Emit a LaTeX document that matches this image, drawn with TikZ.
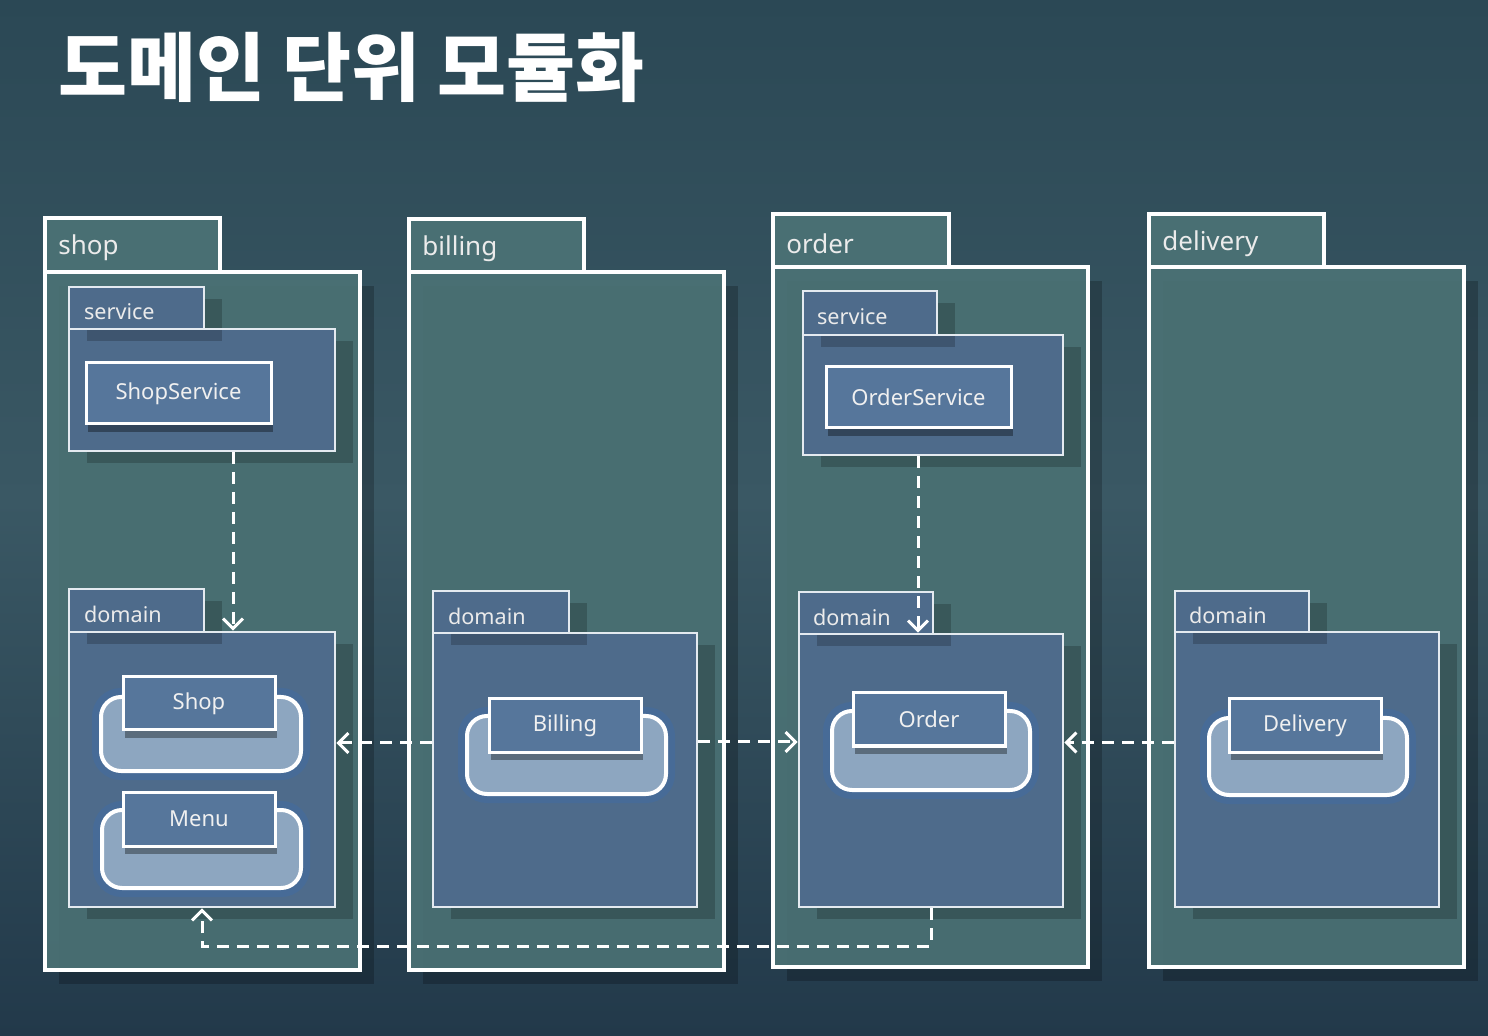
\documentclass[tikz,border=0pt]{standalone}
\usepackage{fontspec}
\setmainfont{Noto Sans}
\newfontfamily\krfont{Noto Sans CJK KR}
\usetikzlibrary{fit,calc,arrows.meta,shadows}
\definecolor{bgtop}{HTML}{2B4855}
\definecolor{bgmid}{HTML}{3A5864}
\definecolor{bgbot}{HTML}{22394A}
\definecolor{pkgfill}{HTML}{4B7275}
\definecolor{infill}{HTML}{4E6B8B}
\definecolor{clsfill}{HTML}{56769B}
\definecolor{entfill}{HTML}{8DA6C0}
\definecolor{glowcol}{HTML}{3F6CA6}
\definecolor{lineinner}{HTML}{E4EAF0}
\begin{document}
\begin{tikzpicture}[x=0.5pt,y=-0.5pt,
  pkgbody/.style={draw=white, line width=2pt, fill=pkgfill, fill opacity=.92, inner sep=0pt,
    drop shadow={shadow xshift=7pt, shadow yshift=-7pt, opacity=.22, fill=black}},
  pkgtab/.style={draw=white, line width=2pt, fill=pkgfill, fill opacity=.92, inner sep=0pt},
  inbody/.style={draw=lineinner, line width=1.3pt, fill=infill, inner sep=0pt,
    drop shadow={shadow xshift=9pt, shadow yshift=-6pt, opacity=.2, fill=black}},
  intab/.style={draw=lineinner, line width=1.3pt, fill=infill, inner sep=0pt,
    drop shadow={shadow xshift=9pt, shadow yshift=-6pt, opacity=.2, fill=black}},
  inline/.style={draw=lineinner, line width=1.3pt, inner sep=0pt},
  cls/.style={draw=white, line width=1.5pt, fill=clsfill, inner sep=0pt,
    drop shadow={shadow xshift=1pt, shadow yshift=-4pt, opacity=.35, fill=black}},
  clstxt/.style={text=white!94!black, inner sep=0pt, font=\fontsize{11}{13}\selectfont},
  ent/.style={draw=white, line width=2pt, fill=entfill, rounded corners=10pt, inner sep=0pt,
    preaction={draw=glowcol, line width=9pt, draw opacity=.45}},
  tablbl/.style={anchor=west, text=white!92!black, inner sep=0pt, font=\fontsize{13}{15}\selectfont},
  inlbl/.style={anchor=west, text=white!92!black, inner sep=0pt, font=\fontsize{10.8}{13}\selectfont},
  dep/.style={draw=white, line width=1.5pt, dash pattern=on 6pt off 4pt,
    -{Straight Barb[length=5pt,width=10pt]}}
]
% background
\useasboundingbox (0,0) rectangle (1488,1036);
\shade[top color=bgtop, bottom color=bgmid] (0,0) rectangle (1488,500);
\shade[top color=bgmid, bottom color=bgbot] (0,500) rectangle (1488,1036);

% title
\node[anchor=west, text=white, inner sep=0pt, font=\krfont\bfseries\fontsize{37.5}{45}\selectfont] (title) at (58,67) {도메인 단위 모듈화};

% ---------------- shop ----------------
\node[pkgbody, fit={(45,272)(360,970)}] (shop) {};
\node[pkgtab, fit={(45,218)(220,272)}] (shoptab) {};
\node[tablbl] (shoptxt) at ($(shoptab.west)+(15,3)$) {shop};

\node[inbody, fit={(69,329)(335,451)}] (shopsvc) {};
\node[intab, fit={(69,287)(204,329)}] (shopsvctab) {};
\node[inline, fit={(69,329)(335,451)}] (shopsvcline) {};
\node[inlbl] (shopsvctxt) at ($(shopsvctab.west)+(16,4)$) {service};
\node[cls, fit={(86,363)(271,424)}] (shopservice) {};
\node[clstxt] (shopservicetxt) at (shopservice.center) {ShopService};

\node[inbody, fit={(69,632)(335,907)}] (shopdom) {};
\node[intab, fit={(69,589)(204,632)}] (shopdomtab) {};
\node[inline, fit={(69,632)(335,907)}] (shopdomline) {};
\node[inlbl] (shopdomtxt) at ($(shopdomtab.west)+(16,4)$) {domain};

\node[ent, fit={(101,697)(301,771)}] (shopent) {};
\node[cls, fit={(123,677)(275,730)}] (shoplbl) {};
\node[clstxt] (shoptext) at (shoplbl.center) {Shop};
\node[ent, fit={(102,810)(301,888)}] (menuent) {};
\node[cls, fit={(123,792)(275,846)}] (menulbl) {};
\node[clstxt] (menutext) at (menulbl.center) {Menu};

% ---------------- billing ----------------
\node[pkgbody, fit={(409,272)(724,970)}] (billing) {};
\node[pkgtab, fit={(409,219)(584,272)}] (billingtab) {};
\node[tablbl] (billingtxt) at ($(billingtab.west)+(15,3)$) {billing};

\node[inbody, fit={(433,633)(697,907)}] (billdom) {};
\node[intab, fit={(433,591)(569,633)}] (billdomtab) {};
\node[inline, fit={(433,633)(697,907)}] (billdomline) {};
\node[inlbl] (billdomtxt) at ($(billdomtab.west)+(16,4)$) {domain};

\node[ent, fit={(467,716)(666,794)}] (billent) {};
\node[cls, fit={(489,699)(641,752)}] (billlbl) {};
\node[clstxt] (billtext) at (billlbl.center) {Billing};

% ---------------- order ----------------
\node[pkgbody, fit={(773,267)(1088,967)}] (order) {};
\node[pkgtab, fit={(773,214)(949,267)}] (ordertab) {};
\node[tablbl] (ordertxt) at ($(ordertab.west)+(15,3)$) {order};

\node[inbody, fit={(803,335)(1063,455)}] (ordsvc) {};
\node[intab, fit={(803,291)(937,335)}] (ordsvctab) {};
\node[inline, fit={(803,335)(1063,455)}] (ordsvcline) {};
\node[inlbl] (ordsvctxt) at ($(ordsvctab.west)+(15,4)$) {service};
\node[cls, fit={(826,367)(1011,428)}] (orderservice) {};
\node[clstxt] (orderservicetxt) at (orderservice.center) {OrderService};

\node[inbody, fit={(799,634)(1063,907)}] (orddom) {};
\node[intab, fit={(799,592)(933,634)}] (orddomtab) {};
\node[inline, fit={(799,634)(1063,907)}] (orddomline) {};
\node[inlbl] (orddomtxt) at ($(orddomtab.west)+(15,4)$) {domain};

\node[ent, fit={(832,711)(1030,790)}] (ordent) {};
\node[cls, fit={(853,693)(1005,746)}] (ordlbl) {};
\node[clstxt] (ordtext) at (ordlbl.center) {Order};

% ---------------- delivery ----------------
\node[pkgbody, fit={(1149,267)(1464,967)}] (delivery) {};
\node[pkgtab, fit={(1149,214)(1324,267)}] (deliverytab) {};
\node[tablbl] (deliverytxt) at ($(deliverytab.west)+(15,3)$) {delivery};

\node[inbody, fit={(1175,632)(1439,907)}] (deldom) {};
\node[intab, fit={(1175,591)(1309,632)}] (deldomtab) {};
\node[inline, fit={(1175,632)(1439,907)}] (deldomline) {};
\node[inlbl] (deldomtxt) at ($(deldomtab.west)+(15,4)$) {domain};

\node[ent, fit={(1209,718)(1407,795)}] (delent) {};
\node[cls, fit={(1229,699)(1381,752)}] (dellbl) {};
\node[clstxt] (deltext) at (dellbl.center) {Delivery};

% ---------------- dependencies ----------------
\draw[dep] ($(shopsvc.south)+(31,0)$) coordinate (sa) -- (sa |- shopdom.north);
\draw[dep] ($(ordsvc.south)+(-15,0)$) coordinate (oa) -- (oa |- orddom.north);
\draw[dep] ($(billdom.west)+(0,-27)$) coordinate (ba) -- (ba -| shopdom.east);
\draw[dep] ($(billdom.east)+(0,-28)$) coordinate (bb) -- (bb -| orddom.west);
\draw[dep] ($(deldom.west)+(0,-27)$) coordinate (da) -- (da -| orddom.east);
\draw[dep] (orddom.south) -- ++(0,38) -| (shopdom.south);
\end{tikzpicture}
\end{document}
